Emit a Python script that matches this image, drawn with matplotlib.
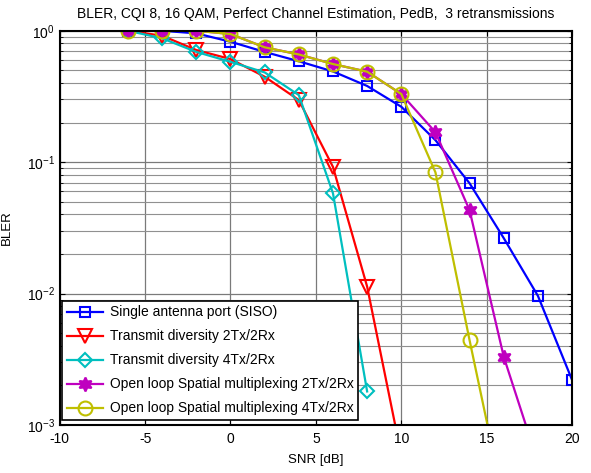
import numpy as np
import matplotlib
matplotlib.use("Agg")
import matplotlib.pyplot as plt

plt.rcParams['font.family'] = ['Liberation Sans', 'DejaVu Sans']
plt.rcParams['axes.unicode_minus'] = False

# SNR points (dB)
snr = [-6, -4, -2, 0, 2, 4, 6, 8, 10, 12, 14, 16, 18, 20]

bler_siso = [1.0, 1.0, 0.955, 0.825, 0.69, 0.586, 0.49, 0.38, 0.264, 0.147, 0.069, 0.0264, 0.0096, 0.0022]
bler_txd2 = [1.0, 0.916, 0.713, 0.609, 0.447, 0.297, 0.092, 0.0113, 0.00059]
bler_txd4 = [1.0, 0.875, 0.69, 0.58, 0.482, 0.324, 0.058, 0.0018]
bler_olsm2 = [1.0, 1.0, 1.0, 0.944, 0.748, 0.66, 0.558, 0.488, 0.33, 0.169, 0.043, 0.0033, 0.00052]
bler_olsm4 = [1.0, 1.0, 1.0, 0.944, 0.748, 0.66, 0.558, 0.488, 0.33, 0.0836, 0.0044, 0.00026]

labels = ['Single antenna port (SISO)',
          'Transmit diversity 2Tx/2Rx',
          'Transmit diversity 4Tx/2Rx',
          'Open loop Spatial multiplexing 2Tx/2Rx',
          'Open loop Spatial multiplexing 4Tx/2Rx']

series = [bler_siso, bler_txd2, bler_txd4, bler_olsm2, bler_olsm4]
colors = ['#0000FF', '#FF0000', '#00BFBF', '#BF00BF', '#BFBF00']
markers = ['s', 'v', 'D', (6, 1, 0), 'o']
msizes = [7, 10, 7, 10, 10]
mfcs = ['none', 'none', 'none', '#BF00BF', 'none']

fig = plt.figure(figsize=(5.91, 4.73), dpi=100)
ax = fig.add_axes([0.101, 0.1015, 0.867, 0.8335])

for vals, c, m, ms, fc, lab in zip(series, colors, markers, msizes, mfcs, labels):
    ax.semilogy(snr[:len(vals)], vals, color=c, marker=m, markersize=ms,
                markerfacecolor=fc, markeredgewidth=1.5, linewidth=1.6, label=lab)

ax.set_xlim(-10, 20)
ax.set_ylim(1e-3, 1)
ax.set_xticks(range(-10, 21, 5))
ax.grid(True, which='major', color='#7a7a7a', linewidth=0.9)
ax.grid(True, which='minor', axis='y', color='#909090', linewidth=0.8)
ax.tick_params(which='both', direction='in', top=True, right=True, labelsize=10)
ax.tick_params(axis='x', pad=5)
for s in ax.spines.values():
    s.set_linewidth(1.5)

ax.set_title('BLER, CQI 8, 16 QAM, Perfect Channel Estimation, PedB,  3 retransmissions',
             fontsize=10, pad=9)
ax.set_xlabel('SNR [dB]', fontsize=9.5, labelpad=6)
ax.set_ylabel('BLER', fontsize=9.5, labelpad=10)

leg = ax.legend(loc='lower left', bbox_to_anchor=(0.004, 0.012), fontsize=10,
                fancybox=False, framealpha=1, edgecolor='black',
                handlelength=2.6, borderpad=0.35, labelspacing=0.72, borderaxespad=0,
                handletextpad=0.5)
leg.get_frame().set_linewidth(1.2)

fig.savefig('out.png', dpi=100)
